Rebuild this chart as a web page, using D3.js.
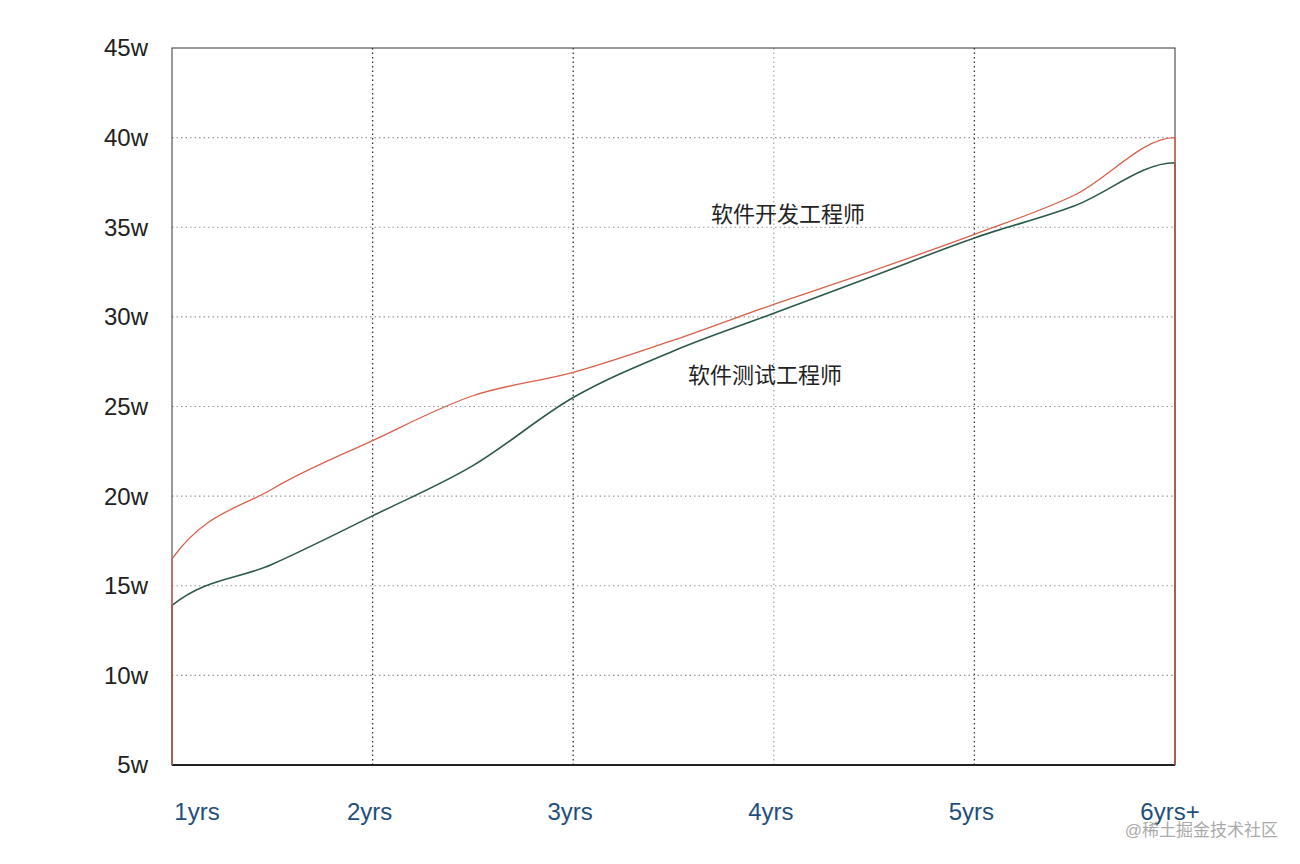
<!DOCTYPE html>
<html><head><meta charset="utf-8">
<script src="https://cdn.jsdelivr.net/npm/d3@7"></script>
<style>body{margin:0;background:#fff;font-family:"Liberation Sans","Noto Sans CJK SC",sans-serif}</style>
</head><body><svg id="c" width="1300" height="864"></svg>
<script>
const xLabels=["1yrs","2yrs","3yrs","4yrs","5yrs","6yrs+"];
const yTicks=[5,10,15,20,25,30,35,40,45];
const xs=[1,1.5,2,2.5,3,3.5,4,4.5,5,5.5,6];
const devVals=[16.5,20.4,23.1,25.6,26.9,28.7,30.7,32.6,34.6,36.8,40.0];
const testVals=[13.9,16.2,18.9,21.7,25.5,28.1,30.2,32.3,34.4,36.2,38.6];
const svg=d3.select("#c");
const x=d3.scaleLinear().domain([1,6]).range([172,1175]);
const y=d3.scaleLinear().domain([5,45]).range([765,48]);
svg.selectAll(".hg").data(yTicks.slice(1,-1)).join("line")
 .attr("x1",172).attr("x2",1175).attr("y1",d=>y(d)).attr("y2",d=>y(d))
 .attr("stroke","#999").attr("stroke-dasharray","1.5,3").attr("stroke-width",1.2);
svg.selectAll(".vg").data([2,3,4,5]).join("line")
 .attr("x1",d=>x(d)).attr("x2",d=>x(d)).attr("y1",48).attr("y2",765)
 .attr("stroke",(d)=>d===4?"#aaa":"#333").attr("stroke-dasharray","1.5,3").attr("stroke-width",1.3);
svg.append("rect").attr("x",172).attr("y",48).attr("width",1003).attr("height",717)
 .attr("fill","none").attr("stroke","#333").attr("stroke-width",1);
svg.append("line").attr("x1",172).attr("x2",1175).attr("y1",765).attr("y2",765).attr("stroke","#222").attr("stroke-width",2);
svg.selectAll(".yl").data(yTicks).join("text")
 .attr("x",148).attr("y",d=>y(d)).attr("dy","0.35em").attr("text-anchor","end")
 .attr("font-size",24).attr("fill","#222").text(d=>d+"w");
svg.selectAll(".xl").data(xLabels).join("text")
 .attr("x",(d,i)=>i===0?x(1)+25:x(i+1)-(i===5?5:3)).attr("y",820).attr("text-anchor","middle")
 .attr("font-size",24).attr("fill","#1f4f7a").text(d=>d);
const line=d3.line().x(d=>x(d[0])).y(d=>y(d[1])).curve(d3.curveMonotoneX);
function pts(v){return [[1,5]].concat(xs.map((a,i)=>[a,v[i]])).concat([[6,5]]);}
svg.append("path").attr("d",line(pts(testVals))).attr("fill","none").attr("stroke","#2c5a48").attr("stroke-width",1.6);
svg.append("path").attr("d",line(pts(devVals))).attr("fill","none").attr("stroke","#d9604a").attr("stroke-width",1.3);
svg.append("text").attr("x",788).attr("y",222).attr("text-anchor","middle").attr("font-size",22).attr("fill","#222").text("软件开发工程师");
svg.append("text").attr("x",765).attr("y",383).attr("text-anchor","middle").attr("font-size",22).attr("fill","#222").text("软件测试工程师");
svg.append("text").attr("x",1278).attr("y",836).attr("text-anchor","end").attr("font-size",17).attr("fill","#aaa").text("@稀土掘金技术社区");
</script></body></html>
